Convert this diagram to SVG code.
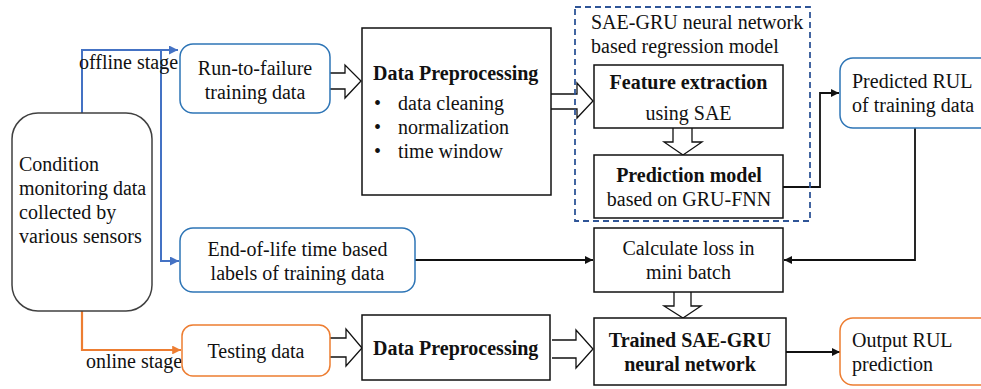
<svg xmlns="http://www.w3.org/2000/svg" width="981" height="389" viewBox="0 0 981 389" font-family="'Liberation Serif', 'Times New Roman', Times, 'DejaVu Serif', serif">
  <style>
    text { font-family: 'Liberation Serif', 'Times New Roman', Times, 'DejaVu Serif', serif; font-size: 20px; fill: #111; }
    .b { font-weight: bold; }
    .c { text-anchor: middle; }
    .box { fill: #fff; stroke: #111; stroke-width: 1.5; }
    .blue { fill: #fff; stroke: #2E75B6; stroke-width: 1.5; }
    .orange { fill: #fff; stroke: #ED7D31; stroke-width: 1.5; }
    .gray { fill: #fff; stroke: #404040; stroke-width: 1.5; }
    .hollow { fill: #fff; stroke: #111; stroke-width: 1.3; stroke-linejoin: miter; }
    .lb { fill: none; stroke: #4472C4; stroke-width: 2; }
    .lo { fill: none; stroke: #ED7D31; stroke-width: 2.2; }
    .lk { fill: none; stroke: #111; stroke-width: 1.8; }
  </style>
  <defs>
    <marker id="ab" viewBox="0 0 10 10" refX="10" refY="5" markerWidth="4.5" markerHeight="4.5" orient="auto" markerUnits="strokeWidth">
      <path d="M0,0 L10,5 L0,10 z" fill="#4472C4"/>
    </marker>
    <marker id="ao" viewBox="0 0 10 10" refX="10" refY="5" markerWidth="4" markerHeight="4" orient="auto" markerUnits="strokeWidth">
      <path d="M0,0 L10,5 L0,10 z" fill="#ED7D31"/>
    </marker>
    <marker id="ak" viewBox="0 0 10 10" refX="10" refY="5" markerWidth="4.5" markerHeight="4.5" orient="auto" markerUnits="strokeWidth">
      <path d="M0,0 L10,5 L0,10 z" fill="#111"/>
    </marker>
  </defs>

  <!-- connectors -->
  <g id="connectors">
    <path class="lb" d="M82,113 V50 H178" marker-end="url(#ab)"/>
    <path class="lb" d="M161,50 V261 H179" marker-end="url(#ab)"/>
    <path class="lo" d="M82,311 V350 H181" marker-end="url(#ao)"/>
    <path class="lk" d="M415,260 H593" marker-end="url(#ak)"/>
    <path class="lk" d="M783,187 H820 V93 H839" marker-end="url(#ak)"/>
    <path class="lk" d="M915,128 V260 H784" marker-end="url(#ak)"/>
    <path class="lk" d="M786,352 H840" marker-end="url(#ak)"/>
    <!-- block arrows -->
    <path class="hollow" d="M330,73 H345 V65 L361,81 L345,98 V89 H330"/>
    <path class="hollow" d="M551,94 H577 V83 L593,101 L577,118 V109 H551"/>
    <path class="hollow" d="M673,128 V142 H664 L683,155 L702,142 H692 V128"/>
    <path class="hollow" d="M674,292 V306 H664 L683,318 L701,306 H691 V292"/>
    <path class="hollow" d="M330,338 H346 V329 L362,348 L346,366 V357 H330"/>
    <path class="hollow" d="M552,340 H576 V330 L593,349 L576,368 V358 H552"/>
  </g>

  <g id="condition-data">
    <rect class="gray" x="12" y="113" width="140" height="198" rx="26"/>
    <text x="19" y="171">Condition</text>
    <text x="19" y="195">monitoring data</text>
    <text x="19" y="219">collected by</text>
    <text x="19" y="243">various sensors</text>
  </g>

  <g id="offline-label"><text x="79" y="69">offline stage</text></g>
  <g id="online-label"><text x="86" y="368">online stage</text></g>

  <g id="run-to-failure">
    <rect class="blue" x="180" y="44" width="150" height="69" rx="13"/>
    <text class="c" x="255" y="75">Run-to-failure</text>
    <text class="c" x="255" y="99">training data</text>
  </g>

  <g id="end-of-life">
    <rect class="blue" x="180" y="228" width="235" height="64" rx="13"/>
    <text class="c" x="297.5" y="256">End-of-life time based</text>
    <text class="c" x="297.5" y="280">labels of training data</text>
  </g>

  <g id="testing-data">
    <rect class="orange" x="182" y="325" width="148" height="51" rx="11"/>
    <text class="c" x="256" y="358">Testing data</text>
  </g>

  <g id="preprocessing-train">
    <rect class="box" x="362" y="28" width="189" height="167"/>
    <text class="b" x="373" y="80">Data Preprocessing</text>
    <text x="374" y="110">•</text><text x="398" y="110">data cleaning</text>
    <text x="374" y="134">•</text><text x="398" y="134">normalization</text>
    <text x="374" y="158">•</text><text x="398" y="158">time window</text>
  </g>

  <g id="sae-gru-model">
    <rect x="575" y="7" width="235" height="214" fill="none" stroke="#2F5597" stroke-width="1.8" stroke-dasharray="6,4"/>
    <text x="591" y="29">SAE-GRU neural network</text>
    <text x="591" y="53">based regression model</text>
  </g>

  <g id="feature-extraction">
    <rect class="box" x="594" y="65" width="189" height="63"/>
    <text class="b c" x="688.5" y="89">Feature extraction</text>
    <text class="c" x="688.5" y="120">using SAE</text>
  </g>

  <g id="prediction-model">
    <rect class="box" x="594" y="155" width="189" height="63"/>
    <text class="b c" x="689" y="182">Prediction model</text>
    <text class="c" x="689" y="206">based on GRU-FNN</text>
  </g>

  <g id="predicted-rul">
    <rect class="blue" x="840" y="58" width="160" height="70" rx="13"/>
    <text x="852" y="88">Predicted RUL</text>
    <text x="852" y="112">of training data</text>
  </g>

  <g id="calculate-loss">
    <rect class="box" x="594" y="228" width="189" height="64"/>
    <text class="c" x="688.5" y="255">Calculate loss in</text>
    <text class="c" x="688.5" y="279">mini batch</text>
  </g>

  <g id="preprocessing-test">
    <rect class="box" x="362" y="315" width="188" height="65"/>
    <text class="b" x="373" y="355">Data Preprocessing</text>
  </g>

  <g id="trained-network">
    <rect class="box" x="594" y="318" width="192" height="67"/>
    <text class="b c" x="690" y="347">Trained SAE-GRU</text>
    <text class="b c" x="690" y="371">neural network</text>
  </g>

  <g id="output-rul">
    <rect class="orange" x="840" y="318" width="160" height="67" rx="13"/>
    <text x="852" y="347">Output RUL</text>
    <text x="852" y="371">prediction</text>
  </g>
</svg>
